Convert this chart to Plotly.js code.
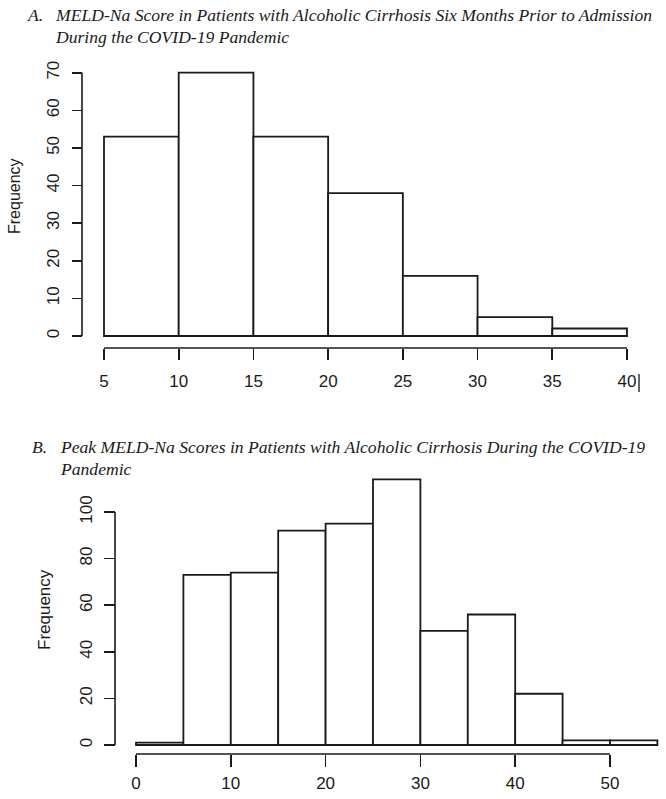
<!DOCTYPE html>
<html>
<head>
<meta charset="utf-8">
<script src="https://cdn.plot.ly/plotly-3.0.1.min.js"></script>
<style>html,body{margin:0;padding:0;background:#fff;}#chart{width:666px;height:799px;}</style>
</head>
<body>
<div id="chart"></div>
<script>
// ---- data ----
const binWidth = 5;
const binStartsA = [5, 10, 15, 20, 25, 30, 35];
const countsA = [53, 70, 53, 38, 16, 5, 2];
const binStartsB = [0, 5, 10, 15, 20, 25, 30, 35, 40, 45, 50];
const countsB = [1, 73, 74, 92, 95, 114, 49, 56, 22, 2, 2];
const xTicksA = [5, 10, 15, 20, 25, 30, 35, 40];
const yTicksA = [0, 10, 20, 30, 40, 50, 60, 70];
const xTicksB = [0, 10, 20, 30, 40, 50];
const yTicksB = [0, 20, 40, 60, 80, 100];
const titleA = ["MELD-Na Score in Patients with Alcoholic Cirrhosis Six Months Prior to Admission", "During the COVID-19 Pandemic"];
const titleB = ["Peak MELD-Na Scores in Patients with Alcoholic Cirrhosis During the COVID-19", "Pandemic"];
const yLabel = "Frequency";

// ---- layout helpers ----
const W = 666, H = 799;
const px = x => x / W;
const py = y => 1 - y / H;
const ink = '#1a1a1a';
const sans = 'Liberation Sans, Arial, sans-serif';
const serif = 'Liberation Serif, Times New Roman, serif';
const titleSize = 17.6;

// pixel scale definitions (value -> pixel)
const A = {x0v: 5, x0p: 104, x1v: 40, x1p: 627, y0v: 0, y0p: 336, y1v: 70, y1p: 72.7};
const B = {x0v: 0, x0p: 136, x1v: 50, x1p: 610, y0v: 0, y0p: 745, y1v: 100, y1p: 512};
function rangeFor(v0, p0, v1, p1, pa, pb) {
  const k = (v1 - v0) / (p1 - p0);
  return [v0 + (pa - p0) * k, v0 + (pb - p0) * k];
}

const centersA = binStartsA.map(s => s + binWidth / 2);
const centersB = binStartsB.map(s => s + binWidth / 2);

const barStyle = {color: '#ffffff', line: {color: ink, width: 1.8}};

const traces = [
  {type: 'bar', x: centersA, y: countsA, width: binStartsA.map(() => binWidth),
   marker: barStyle, xaxis: 'x', yaxis: 'y', hoverinfo: 'x+y', showlegend: false},
  {type: 'bar', x: centersB, y: countsB, width: binStartsB.map(() => binWidth),
   marker: barStyle, xaxis: 'x2', yaxis: 'y2', hoverinfo: 'x+y', showlegend: false}
];

const axBase = {showgrid: false, zeroline: false, showline: false, ticks: 'outside',
  tickcolor: ink, tickwidth: 1.6, tickfont: {family: sans, size: 17, color: ink}, fixedrange: true};

const axXA = {x0: 97, x1: 640}, axYA = {top: 64, bot: 340};
const axXB = {x0: 128, x1: 664}, axYB = {top: 470, bot: 748};
const xLineA = 348, xLineB = 754;

const layout = {
  width: W, height: H,
  margin: {l: 0, r: 0, t: 0, b: 0},
  paper_bgcolor: '#ffffff', plot_bgcolor: 'rgba(0,0,0,0)',
  bargap: 0,
  xaxis: Object.assign({}, axBase, {
    domain: [px(axXA.x0), px(axXA.x1)],
    range: rangeFor(A.x0v, A.x0p, A.x1v, A.x1p, axXA.x0, axXA.x1),
    anchor: 'free', position: py(xLineA), tickvals: xTicksA, ticklen: 11, ticklabelstandoff: 7
  }),
  yaxis: Object.assign({}, axBase, {
    domain: [py(axYA.bot), py(axYA.top)],
    range: rangeFor(A.y0v, A.y0p, A.y1v, A.y1p, axYA.bot, axYA.top),
    anchor: 'free', position: px(82), tickvals: yTicksA, ticklen: 10, tickangle: -90, ticklabelstandoff: 6
  }),
  xaxis2: Object.assign({}, axBase, {
    domain: [px(axXB.x0), px(axXB.x1)],
    range: rangeFor(B.x0v, B.x0p, B.x1v, B.x1p, axXB.x0, axXB.x1),
    anchor: 'free', position: py(xLineB), tickvals: xTicksB, ticklen: 12, ticklabelstandoff: 2
  }),
  yaxis2: Object.assign({}, axBase, {
    domain: [py(axYB.bot), py(axYB.top)],
    range: rangeFor(B.y0v, B.y0p, B.y1v, B.y1p, axYB.bot, axYB.top),
    anchor: 'free', position: px(115), tickvals: yTicksB, ticklen: 11, tickangle: -90, ticklabelstandoff: 5
  }),
  shapes: [
    // axis lines limited to the tick span (as in base R)
    {type: 'line', xref: 'x', yref: 'paper', x0: xTicksA[0], x1: xTicksA[xTicksA.length - 1], y0: py(xLineA), y1: py(xLineA), line: {color: ink, width: 1.6}},
    {type: 'line', xref: 'paper', yref: 'y', x0: px(82), x1: px(82), y0: yTicksA[0], y1: yTicksA[yTicksA.length - 1], line: {color: ink, width: 1.6}},
    {type: 'line', xref: 'x2', yref: 'paper', x0: xTicksB[0], x1: xTicksB[xTicksB.length - 1], y0: py(xLineB), y1: py(xLineB), line: {color: ink, width: 1.6}},
    {type: 'line', xref: 'paper', yref: 'y2', x0: px(115), x1: px(115), y0: yTicksB[0], y1: yTicksB[yTicksB.length - 1], line: {color: ink, width: 1.6}},
    // stray cursor mark after "40" in the source image
    {type: 'line', xref: 'paper', yref: 'paper', x0: px(639), x1: px(639), y0: py(374), y1: py(392), line: {color: '#333', width: 1.5}}
  ],
  annotations: [
    {xref: 'paper', yref: 'paper', x: px(25), y: py(15), xanchor: 'left', yanchor: 'middle', showarrow: false,
     text: '<i>A.</i>', font: {family: serif, size: titleSize, color: ink}},
    {xref: 'paper', yref: 'paper', x: px(53), y: py(15), xanchor: 'left', yanchor: 'middle', showarrow: false,
     text: '<i>' + titleA[0] + '</i>', font: {family: serif, size: titleSize, color: ink}},
    {xref: 'paper', yref: 'paper', x: px(53), y: py(37), xanchor: 'left', yanchor: 'middle', showarrow: false,
     text: '<i>' + titleA[1] + '</i>', font: {family: serif, size: titleSize, color: ink}},
    {xref: 'paper', yref: 'paper', x: px(30), y: py(447), xanchor: 'left', yanchor: 'middle', showarrow: false,
     text: '<i>B.</i>', font: {family: serif, size: titleSize, color: ink}},
    {xref: 'paper', yref: 'paper', x: px(58), y: py(447), xanchor: 'left', yanchor: 'middle', showarrow: false,
     text: '<i>' + titleB[0] + '</i>', font: {family: serif, size: titleSize, color: ink}},
    {xref: 'paper', yref: 'paper', x: px(58), y: py(469), xanchor: 'left', yanchor: 'middle', showarrow: false,
     text: '<i>' + titleB[1] + '</i>', font: {family: serif, size: titleSize, color: ink}},
    {xref: 'paper', yref: 'paper', x: px(14), y: py(196), xanchor: 'center', yanchor: 'middle', showarrow: false,
     textangle: -90, text: yLabel, font: {family: sans, size: 16, color: ink}},
    {xref: 'paper', yref: 'paper', x: px(44), y: py(610), xanchor: 'center', yanchor: 'middle', showarrow: false,
     textangle: -90, text: yLabel, font: {family: sans, size: 17, color: ink}}
  ]
};

Plotly.newPlot('chart', traces, layout, {displayModeBar: false, staticPlot: true});
</script>
</body>
</html>
